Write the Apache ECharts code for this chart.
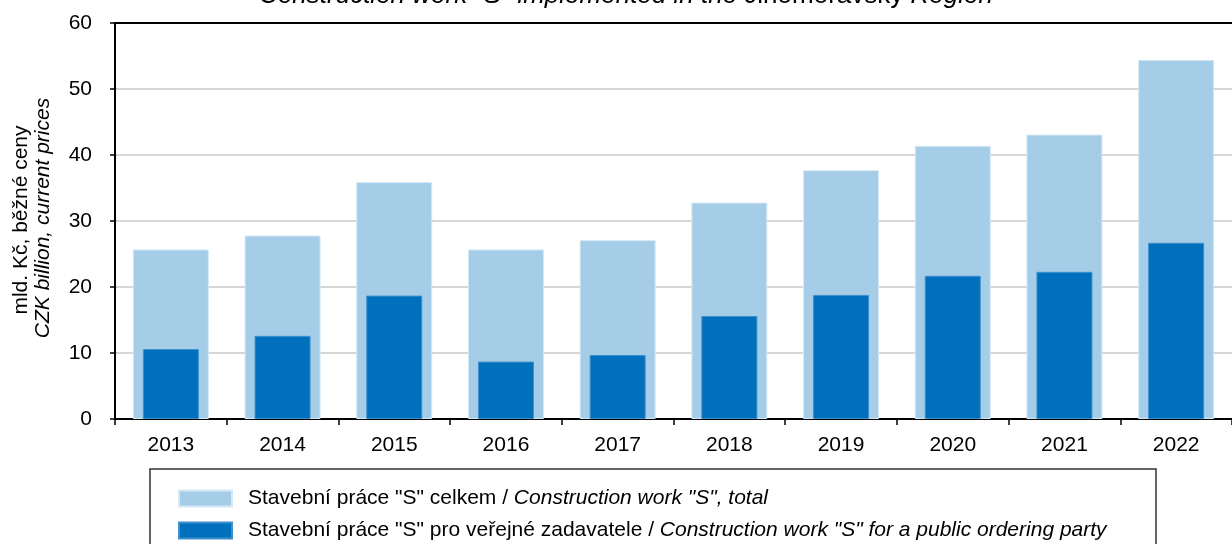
<!DOCTYPE html>
<html>
<head>
<meta charset="utf-8">
<script src="https://cdn.jsdelivr.net/npm/echarts@6/dist/echarts.min.js"></script>
<style>
  html, body { margin: 0; padding: 0; background: #fff; }
  #chart { width: 1232px; height: 544px; }
</style>
</head>
<body>
<div id="chart"></div>
<script>
    // values, CZK billion
    var years = ['2013', '2014', '2015', '2016', '2017', '2018', '2019', '2020', '2021', '2022'];
    var totalWork = [25.7, 27.8, 35.9, 25.7, 27.1, 32.8, 37.7, 41.4, 43.1, 54.4];
    var publicWork = [10.6, 12.6, 18.7, 8.7, 9.7, 15.6, 18.8, 21.7, 22.3, 26.7];

    var NAME_TOTAL = 'total';
    var NAME_PUBLIC = 'public';
    var FONT = 'Liberation Sans, Arial, sans-serif';

    var chart = echarts.init(document.getElementById('chart'), null, {renderer: 'canvas'});

    var option = {
        animation: false,
        backgroundColor: '#fff',
        grid: {
            left: 115,
            top: 23,
            width: 1127,
            height: 396
        },
        xAxis: [{
            type: 'category',
            data: years,
            position: 'bottom',
            axisLine: {lineStyle: {color: '#000', width: 2}},
            axisTick: {show: true, length: 6, lineStyle: {color: '#000', width: 1.5}},
            axisLabel: {color: '#000', fontSize: 21, fontFamily: FONT, margin: 16}
        }, {
            type: 'category',
            data: years,
            position: 'top',
            axisLine: {lineStyle: {color: '#000', width: 2}},
            axisTick: {show: false},
            axisLabel: {show: false}
        }],
        yAxis: {
            type: 'value',
            min: 0,
            max: 60,
            interval: 10,
            axisLine: {show: true, lineStyle: {color: '#000', width: 2}},
            axisTick: {show: true, length: 5, lineStyle: {color: '#000', width: 1.5}},
            axisLabel: {color: '#000', fontSize: 21, fontFamily: FONT, margin: 23},
            splitLine: {lineStyle: {color: '#c8c8c8', width: 1.5}}
        },
        legend: {
            left: 178,
            top: 488,
            height: 120,
            orient: 'vertical',
            padding: 0,
            itemWidth: 53,
            itemHeight: 16,
            itemGap: 11,
            icon: 'rect',
            data: [NAME_TOTAL, NAME_PUBLIC],
            formatter: function (name) {
                if (name == NAME_TOTAL) {
                    return '{n|Stavební práce "S" celkem / }{i|Construction work "S", total}';
                }
                return '{n|Stavební práce "S" pro veřejné zadavatele / }{i|Construction work "S" for a public ordering party}';
            },
            textStyle: {
                padding: [0, 0, 0, 11],
                rich: {
                    n: {fontSize: 21, fontFamily: FONT, color: '#000', lineHeight: 16},
                    i: {fontSize: 21, fontFamily: FONT, color: '#000', fontStyle: 'italic', lineHeight: 16}
                }
            }
        },
        series: [{
            name: NAME_TOTAL,
            type: 'bar',
            xAxisIndex: 0,
            barWidth: 76,
            data: totalWork,
            itemStyle: {color: '#a6cde7', borderColor: '#d4e8f5', borderWidth: 1}
        }, {
            name: NAME_PUBLIC,
            type: 'bar',
            xAxisIndex: 1,
            barWidth: 56,
            data: publicWork,
            itemStyle: {color: '#0070bc', borderColor: '#3f8fcc', borderWidth: 1}
        }],
        graphic: [{
            type: 'rect',
            shape: {x: 150, y: 469, width: 1006, height: 120},
            style: {fill: 'none', stroke: '#333', lineWidth: 1.5},
            z: 0
        }, {
            type: 'text',
            x: 626,
            y: -4,
            style: {
                text: '{i|Construction work "S" implemented in the }{n|Jihomoravský}{i| Region}',
                align: 'center',
                verticalAlign: 'middle',
                rich: {
                    n: {fontSize: 26, fontFamily: FONT, fill: '#000'},
                    i: {fontSize: 26, fontFamily: FONT, fill: '#000', fontStyle: 'italic'}
                }
            }
        }, {
            type: 'text',
            x: 21,
            y: 220,
            rotation: Math.PI / 2,
            style: {
                text: 'mld. Kč, běžné ceny',
                align: 'center',
                verticalAlign: 'middle',
                fontSize: 21,
                fontFamily: FONT,
                fill: '#000'
            }
        }, {
            type: 'text',
            x: 43,
            y: 218,
            rotation: Math.PI / 2,
            style: {
                text: 'CZK billion, current prices',
                align: 'center',
                verticalAlign: 'middle',
                fontSize: 21,
                fontStyle: 'italic',
                fontFamily: FONT,
                fill: '#000'
            }
        }]
    };

    chart.setOption(option);
</script>
</body>
</html>
